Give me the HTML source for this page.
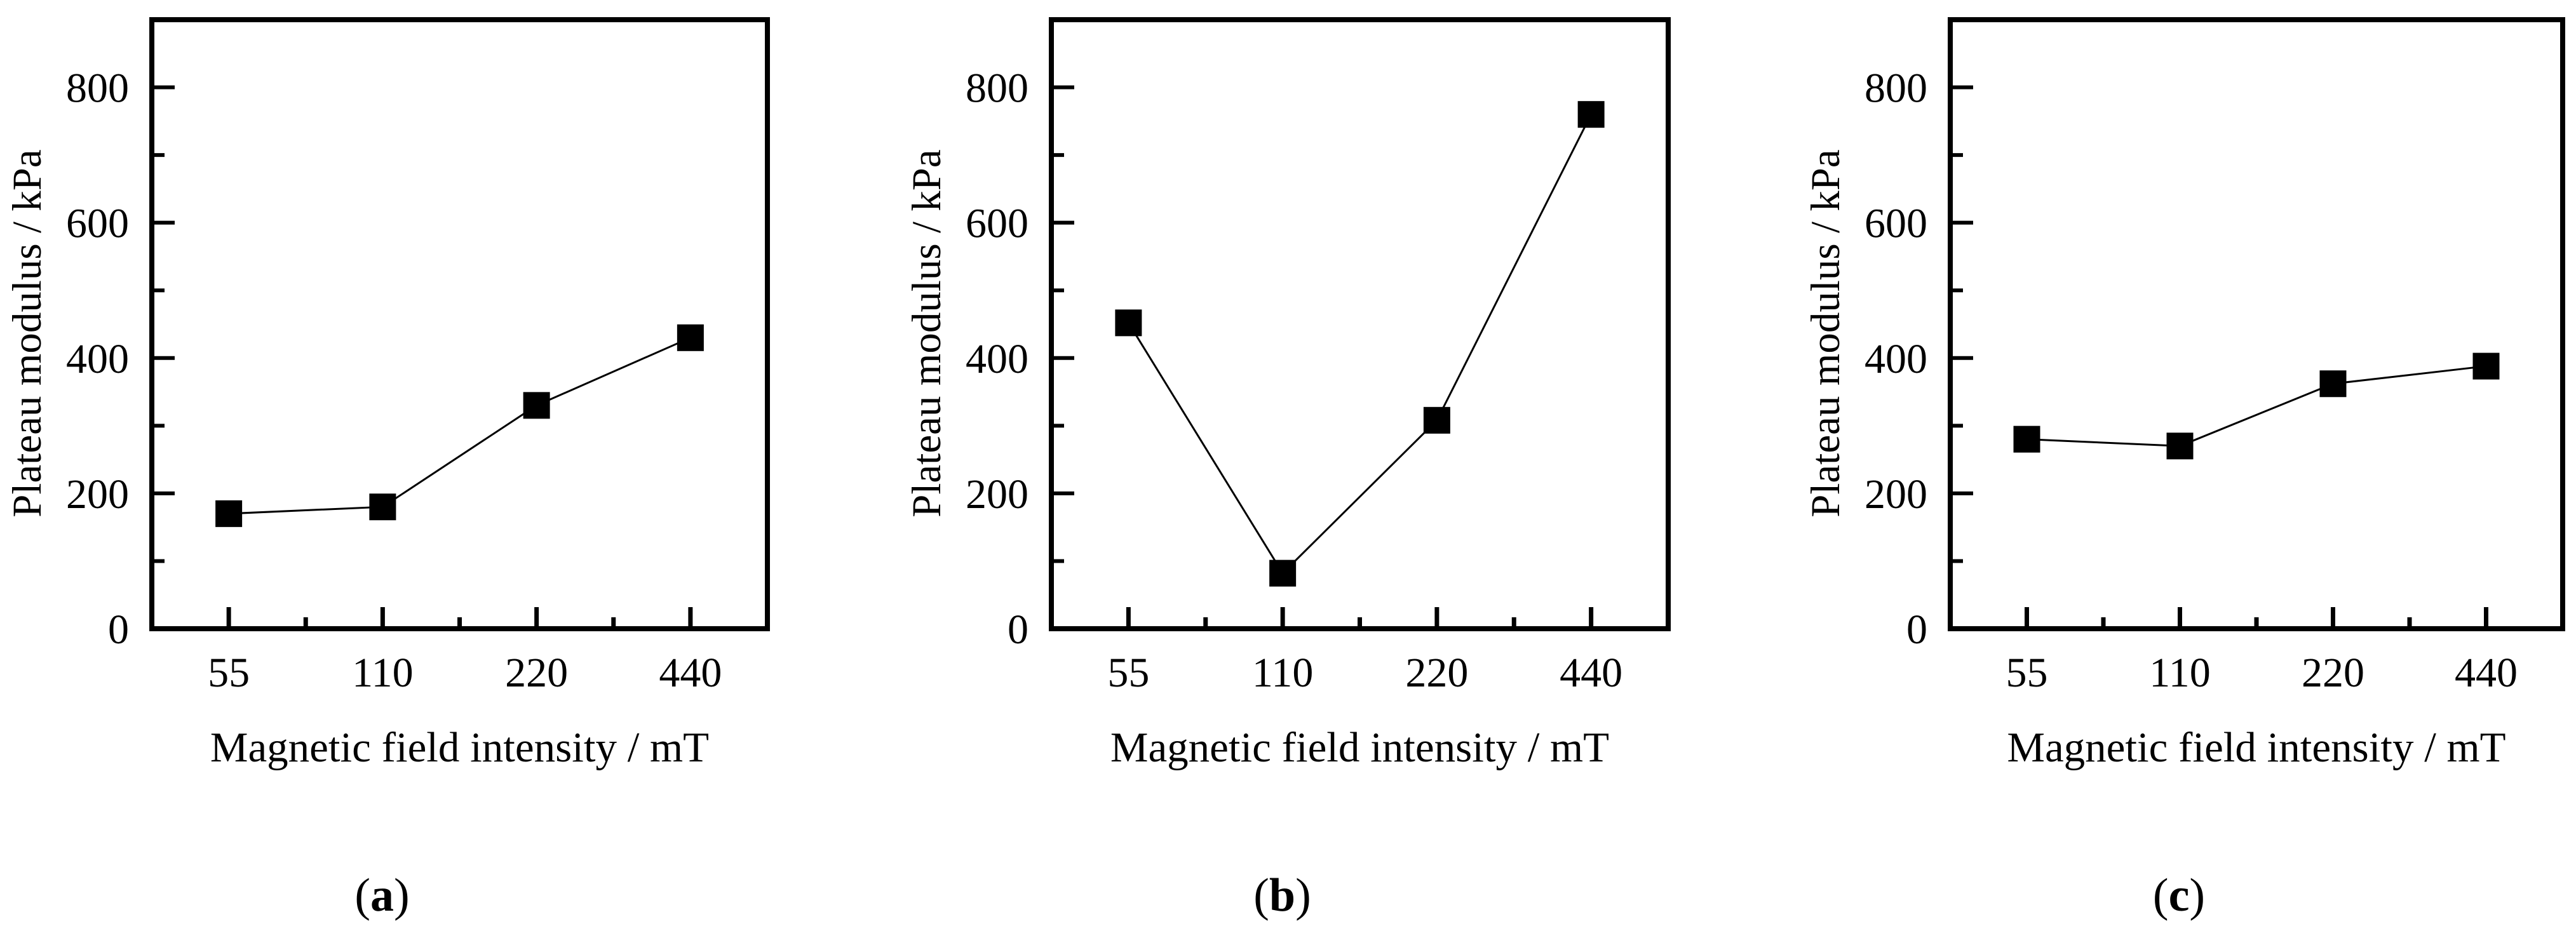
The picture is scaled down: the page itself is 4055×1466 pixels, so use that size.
<!DOCTYPE html>
<html><head><meta charset="utf-8"><style>
html,body{margin:0;padding:0;background:#fff}
svg{display:block}
text{font-family:"Liberation Serif","Times New Roman",serif;fill:#000}
</style></head><body>
<svg id="fig" width="4055" height="1466" viewBox="0 0 4055 1466" xmlns="http://www.w3.org/2000/svg"></svg>
<script>
const categories = ["55","110","220","440"];
const seriesA = [170,180,330,430];
const seriesB = [452,82,308,760];
const seriesC = [280,270,362,388];
const yTickLabels = [0,200,400,600,800];
const panelLabels = ["a","b","c"];

const NS = "http://www.w3.org/2000/svg";
const svg = document.getElementById("fig");
function mk(tag, attrs, parent){const e=document.createElementNS(NS,tag);for(const k in attrs)e.setAttribute(k,attrs[k]);(parent||svg).appendChild(e);return e;}

const panels = [{x0:239,x1:1208,data:seriesA},{x0:1655,x1:2626,data:seriesB},{x0:3070,x1:4034,data:seriesC}];
const yTop=31, yBot=990, yMax=900;

panels.forEach((p,pi)=>{
  const g = mk("g",{});
  
  
  const w=p.x1-p.x0;
  const xs = i => p.x0 + (i+0.5)*w/categories.length;
  const ys = v => yBot - v/yMax*(yBot-yTop);
  for(let v=0; v<=yMax; v+=100){
    if(v===0) continue;
    const major = v%200===0;
    const t=mk("line",{x1:p.x0,x2:p.x0+(major?36:20),y1:ys(v),y2:ys(v),stroke:"#000","stroke-width":6},g);
    
    
  }
  yTickLabels.forEach(v=>{
    const t=mk("text",{x:p.x0-36,y:ys(v)+23,"font-size":66,"text-anchor":"end"},g);
    t.textContent=v;
    
    
  });
  categories.forEach((c,i)=>{
    const t=mk("line",{x1:xs(i),x2:xs(i),y1:yBot,y2:yBot-34,stroke:"#000","stroke-width":7},g);
    
    
    if(i<categories.length-1){
      const m=mk("line",{x1:xs(i+0.5),x2:xs(i+0.5),y1:yBot,y2:yBot-18,stroke:"#000","stroke-width":7},g);
      
      
    }
    const l=mk("text",{x:xs(i),y:1081,"font-size":66,"text-anchor":"middle"},g);
    l.textContent=c;
    
    
  });
  const pts=p.data.map((v,i)=>xs(i)+","+ys(v)).join(" ");
  const pl=mk("polyline",{points:pts,fill:"none",stroke:"#000","stroke-width":3},g);
  
  
  p.data.forEach((v,i)=>{
    const r=mk("rect",{x:xs(i)-21,y:ys(v)-21,width:42,height:42,fill:"#000"},g);
    
    
  });
  const f=mk("rect",{x:p.x0,y:yTop,width:w,height:yBot-yTop,fill:"none",stroke:"#000","stroke-width":8},g);
  
  
  const xt=mk("text",{x:(p.x0+p.x1)/2,y:1199,"font-size":67,"text-anchor":"middle"},g);
  xt.textContent="Magnetic field intensity / mT";
  
  
  const yx=p.x0-197+22, yy=525;
  const yt=mk("text",{x:yx,y:yy,"font-size":65,"text-anchor":"middle",transform:`rotate(-90 ${yx} ${yy})`},g);
  yt.textContent="Plateau modulus / kPa";
  
  
  const pt=mk("text",{x:(p.x0+p.x1)/2-122,y:1434,"font-size":74,"text-anchor":"middle"},g);
  pt.innerHTML='(<tspan font-weight="bold">'+panelLabels[pi]+'</tspan>)';
  
  
});
</script>
</body></html>
